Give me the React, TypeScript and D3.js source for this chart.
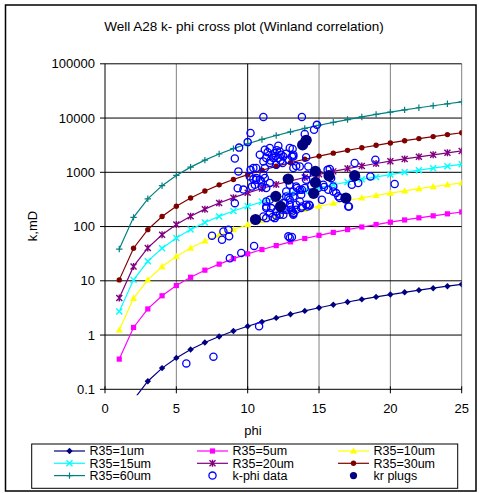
import * as d3 from 'd3';

// porosity steps used by the Winland lines
const phiSteps = [1, 2, 3, 4, 5, 6, 7, 8, 9, 10, 11, 12, 13, 14, 15, 16, 17, 18, 19, 20, 21, 22, 23, 24, 25];

// permeability (mD)
const r35_1 = [0.0167, 0.064, 0.141, 0.246, 0.379, 0.54, 0.728, 0.943, 1.19, 1.45, 1.75, 2.07, 2.42, 2.79, 3.19, 3.62, 4.07, 4.55, 5.05, 5.58, 6.14, 6.72, 7.31, 7.95, 8.61];
const r35_5 = [0.36, 1.38, 3.03, 5.3, 8.17, 11.6, 15.7, 20.3, 25.6, 31.4, 37.7, 44.6, 52.2, 60.2, 68.9, 78, 87.8, 98.1, 108.9, 120.3, 132.3, 144.8, 157.7, 171.4, 185.5];
const r35_10 = [1.24, 4.76, 10.4, 18.3, 28.1, 40.1, 54.1, 70, 88, 108, 130, 153.8, 179.7, 207.5, 237.2, 268.7, 302.3, 337.8, 375.2, 414.3, 455.6, 498.6, 543.1, 590.2, 639];
const r35_15 = [2.72, 10.4, 22.9, 40, 61.7, 87.9, 118.6, 153.7, 193.1, 236.9, 285.1, 337.3, 394.1, 455.1, 520.3, 589.4, 663.1, 740.9, 823.1, 908.8, 999.3, 1094, 1191, 1295, 1402];
const r35_20 = [4.8, 18.4, 40.4, 70.7, 109, 155.2, 209.3, 271.2, 340.8, 418.1, 503, 595.2, 695.5, 803, 918.2, 1040, 1170, 1308, 1452, 1604, 1764, 1930, 2102, 2285, 2473];
const r35_30 = [10.4, 39.9, 87.6, 153.1, 236.1, 336.2, 453.4, 587.5, 738.4, 905.8, 1090, 1290, 1507, 1740, 1990, 2254, 2536, 2833, 3147, 3475, 3821, 4182, 4555, 4950, 5359];
const r35_60 = [38.5, 147.7, 324.4, 566.7, 874, 1245, 1679, 2175, 2734, 3353, 4035, 4774, 5579, 6441, 7365, 8343, 9386, 10487, 11650, 12863, 14145, 15481, 16863, 18326, 19839];

// core data [phi, k]
const kphiData: [number, number][] = [
  [11.1, 10500], [13.8, 10500], [14.85, 7500], [14.65, 6100], [14.0, 5100], [10.2, 5300],
  [10.0, 3600], [9.4, 2850], [9.1, 1800], [12.15, 3100], [13.15, 2700], [13.2, 1950],
  [12.85, 1700], [14.1, 1900], [13.4, 1300], [13.2, 2100],
  [11.2, 2600], [11.55, 2800], [11.9, 2260], [12.25, 2420], [11.8, 1830], [12.15, 1830],
  [12.5, 1960], [11.3, 1830], [11.1, 1585], [11.55, 1480], [12.0, 1380], [12.45, 1480],
  [10.85, 2100], [12.95, 2800], [13.1, 1960], [11.2, 1200], [10.4, 1200], [13.2, 1200],
  [13.65, 1280], [14.25, 1280], [11.7, 2050], [12.3, 1650], [11.4, 2350], [12.7, 2200],
  [11.95, 2000], [12.05, 2550], [11.6, 1650], [12.35, 2100],
  [10.15, 840], [10.6, 783], [11.2, 783], [10.5, 590], [10.95, 680], [11.3, 512],
  [13.4, 548], [13.65, 477], [13.75, 385], [12.7, 444], [13.2, 359], [13.65, 290],
  [14.1, 252], [14.35, 245], [12.95, 252], [12.7, 204], [13.4, 204], [11.3, 234],
  [11.55, 177], [11.1, 153], [11.9, 143], [12.5, 165],
  [10.6, 729], [11.55, 634], [12.95, 590], [13.45, 512], [13.8, 477], [14.0, 512],
  [15.3, 590], [15.65, 477], [16.2, 414], [16.45, 335], [17.05, 234], [17.3, 590],
  [17.75, 634], [11.55, 312], [12.85, 335], [12.5, 271], [13.4, 252], [11.3, 219],
  [12.0, 190], [12.25, 165], [13.1, 190], [13.2, 165], [13.8, 234], [14.2, 234],
  [11.3, 143], [11.75, 150], [12.85, 66], [12.95, 62], [13.1, 64],
  [9.3, 510], [9.7, 480], [10.3, 545], [11.0, 545], [9.1, 270], [10.4, 750],
  [10.85, 730], [11.1, 900], [9.35, 1040], [10.2, 1110], [10.6, 1200],
  [7.5, 68], [8.3, 81], [8.65, 87], [8.7, 66], [8.2, 57], [10.45, 44], [9.55, 32.5],
  [8.75, 26], [10.8, 1.45], [7.6, 0.4], [5.7, 0.3],
  [14.45, 565], [14.95, 512], [15.35, 535], [15.6, 1110], [15.75, 1150], [15.85, 780],
  [16.0, 548], [16.35, 360], [17.1, 234], [17.5, 1480], [18.6, 840], [18.95, 1700],
  [20.3, 607], [15.2, 312], [16.0, 444], [14.1, 730], [14.15, 900], [13.2, 444],
  [13.2, 177], [13.75, 219], [14.3, 252], [12.45, 204], [12.6, 271], [12.95, 312],
  [12.7, 359], [13.05, 204], [13.2, 172], [11.3, 290], [11.65, 219], [12.0, 158],
];

const krPlugs: [number, number][] = [
  [10.55, 135], [11.97, 360], [12.3, 235], [12.84, 750], [13.85, 3200], [14.1, 3900],
  [14.75, 1040], [14.75, 650], [14.62, 410], [15.7, 865], [16.88, 335], [17.5, 865],
];

const yTicks = [0.1, 1, 10, 100, 1000, 10000, 100000];
const xTicks = [0, 5, 10, 15, 20, 25];

type MarkerKind = 'diamond' | 'square' | 'triangle' | 'x' | 'star' | 'dot' | 'plus' | 'open' | 'plug' | 'plugSmall';

const curves: { name: string; color: string; marker: MarkerKind; values: number[] }[] = [
  { name: 'R35=1um', color: '#000080', marker: 'diamond', values: r35_1 },
  { name: 'R35=5um', color: '#FF00FF', marker: 'square', values: r35_5 },
  { name: 'R35=10um', color: '#FFFF00', marker: 'triangle', values: r35_10 },
  { name: 'R35=15um', color: '#00FFFF', marker: 'x', values: r35_15 },
  { name: 'R35=20um', color: '#800080', marker: 'star', values: r35_20 },
  { name: 'R35=30um', color: '#800000', marker: 'dot', values: r35_30 },
  { name: 'R35=60um', color: '#008080', marker: 'plus', values: r35_60 },
];

const left = 105, right = 461.7, top = 63.8, bottom = 389.3;
const x = d3.scaleLinear().domain([0, 25]).range([left, right]);
const y = d3.scaleLog().domain([0.1, 100000]).range([bottom, top]);

function Marker({ kind, color, cx, cy }: { kind: MarkerKind; color: string; cx: number; cy: number }) {
  switch (kind) {
    case 'diamond':
      return <path d={`M${cx},${cy - 3.2}L${cx + 3.2},${cy}L${cx},${cy + 3.2}L${cx - 3.2},${cy}Z`} fill={color} />;
    case 'square':
      return <rect x={cx - 2.6} y={cy - 2.6} width={5.2} height={5.2} fill={color} />;
    case 'triangle':
      return <path d={`M${cx},${cy - 3.6}L${cx + 3.6},${cy + 2.6}L${cx - 3.6},${cy + 2.6}Z`} fill={color} />;
    case 'x':
      return <path d={`M${cx - 3},${cy - 3}L${cx + 3},${cy + 3}M${cx - 3},${cy + 3}L${cx + 3},${cy - 3}`} stroke={color} strokeWidth={1.4} />;
    case 'star':
      return <path d={`M${cx - 3},${cy - 3}L${cx + 3},${cy + 3}M${cx - 3},${cy + 3}L${cx + 3},${cy - 3}M${cx},${cy - 3.5}L${cx},${cy + 3.5}`} stroke={color} strokeWidth={1.4} />;
    case 'dot':
      return <circle cx={cx} cy={cy} r={2.7} fill={color} />;
    case 'plus':
      return <path d={`M${cx - 3.2},${cy}L${cx + 3.2},${cy}M${cx},${cy - 3.2}L${cx},${cy + 3.2}`} stroke={color} strokeWidth={1.2} />;
    case 'open':
      return <circle cx={cx} cy={cy} r={3.6} fill="none" stroke={color} strokeWidth={1.3} />;
    case 'plug':
      return <circle cx={cx} cy={cy} r={5.6} fill={color} />;
    case 'plugSmall':
      return <circle cx={cx} cy={cy} r={3.6} fill={color} />;
  }
}

export default function App() {
  const font = 'Liberation Sans, Arial, sans-serif';
  const line = d3.line<[number, number]>().x(d => x(d[0])).y(d => y(d[1]));

  const legendItems = [
    ...curves.map(c => ({ name: c.name, color: c.color, marker: c.marker, withLine: true })),
    { name: 'k-phi data', color: '#0000FF', marker: 'open' as MarkerKind, withLine: false },
    { name: 'kr plugs', color: '#000080', marker: 'plugSmall' as MarkerKind, withLine: false },
  ];
  const colX = [54, 197, 338];
  const rowY = [451, 463.3, 475.6];

  return (
    <svg width={479} height={493} style={{ position: 'absolute', left: 0, top: 0 }} fontFamily={font}>
      <rect x={0} y={0} width={479} height={493} fill="#fff" />
      <rect x={5.5} y={5} width={470.5} height={486} fill="none" stroke="#000" strokeWidth={1.5} />
      <text x={244} y={31} textAnchor="middle" fontSize={13.5}>Well A28 k- phi cross plot (Winland correlation)</text>

      <defs>
        <clipPath id="plotClip">
          <rect x={left} y={top} width={right - left} height={bottom - top + 6} />
        </clipPath>
      </defs>

      {/* grid */}
      {xTicks.slice(1).map(t => (
        <line key={'vx' + t} x1={x(t)} x2={x(t)} y1={top} y2={bottom} stroke={t === 10 ? '#000' : '#808080'} strokeWidth={1} />
      ))}
      {yTicks.map(t => (
        <line key={'hy' + t} x1={left} x2={right} y1={y(t)} y2={y(t)} stroke="#000" strokeWidth={1} />
      ))}
      <line x1={left} x2={left} y1={top} y2={bottom} stroke="#000" />

      {/* ticks and labels */}
      {yTicks.map(t => (
        <g key={'yt' + t}>
          <line x1={left - 5} x2={left} y1={y(t)} y2={y(t)} stroke="#000" />
          <text x={95} y={y(t) + 4.5} textAnchor="end" fontSize={13}>{String(t)}</text>
        </g>
      ))}
      {xTicks.map(t => (
        <g key={'xt' + t}>
          <line x1={x(t)} x2={x(t)} y1={bottom - 3} y2={bottom + 4} stroke="#000" />
          <text x={x(t)} y={413} textAnchor="middle" fontSize={13}>{t}</text>
        </g>
      ))}
      <text x={253} y={435} textAnchor="middle" fontSize={13}>phi</text>
      <text transform="translate(37,226) rotate(-90)" textAnchor="middle" fontSize={13}>k,mD</text>

      {/* Winland curves */}
      <g clipPath="url(#plotClip)">
        {curves.map(c => {
          const pts = phiSteps.map((p, i) => [p, c.values[i]] as [number, number]);
          return (
            <g key={c.name}>
              <path d={line(pts) ?? ''} fill="none" stroke={c.color} strokeWidth={1.2} />
              {pts.filter(d => d[1] >= 0.1).map((d, i) => (
                <Marker key={i} kind={c.marker} color={c.color} cx={x(d[0])} cy={y(d[1])} />
              ))}
            </g>
          );
        })}
      </g>

      {/* data */}
      {kphiData.map((d, i) => (
        <Marker key={'k' + i} kind="open" color="#0000FF" cx={x(d[0])} cy={y(d[1])} />
      ))}
      {krPlugs.map((d, i) => (
        <Marker key={'p' + i} kind="plug" color="#000080" cx={x(d[0])} cy={y(d[1])} />
      ))}

      {/* legend */}
      <rect x={31.7} y={444} width={426} height={44.3} fill="#fff" stroke="#000" strokeWidth={1} />
      {legendItems.map((it, i) => {
        const cx = colX[i % 3], cy = rowY[Math.floor(i / 3)];
        return (
          <g key={it.name}>
            {it.withLine && <line x1={cx} x2={cx + 31} y1={cy} y2={cy} stroke={it.color} strokeWidth={1.2} />}
            <Marker kind={it.marker} color={it.color} cx={cx + 15.5} cy={cy} />
            <text x={cx + 35.5} y={cy + 4.3} fontSize={12.5}>{it.name}</text>
          </g>
        );
      })}
    </svg>
  );
}
